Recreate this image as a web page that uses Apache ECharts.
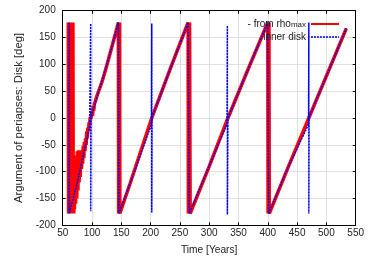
<!DOCTYPE html>
<html>
<head>
<meta charset="utf-8">
<script src="https://cdn.jsdelivr.net/npm/echarts@6/dist/echarts.min.js"></script>
<style>
html,body{margin:0;padding:0;background:#fff;}
#chart{width:374px;height:262px;}
</style>
</head>
<body>
<div id="chart"></div>
<script>
// "- from rho_max" series (time in years, argument of periapsis in degrees)
const rhoTime = [
  59.5,60,60.5,61.5,62,63,63.5,64.5,65,66,66.5,67,67.5,68,
  68.5,69,69.5,70,71,72,73,74,75,76,77,78,79,80,81,82,83,84,85,86,87,88,89,90,91,92,93,94,95,96,97,98,
  100,101,102,103,104,106,108,110,113,116,120,125,130,135,140,145,
  145.5,146,146.5,147,147.5,
  165,202,233,264,
  264.5,265,266,266.5,267.5,
  300,332,366,400,
  400.5,401,401.5,402,402.5,
  435,470,534
];
const rhoDeg = [
  178,-178,178,-178,178,-178,178,-178,178,-178,178,-178,178,-178,
  -95,-178,-90,-170,-85,-160,-70,-150,-62,-135,-60,-120,-65,-110,-60,-95,-75,-85,-52,-75,-45,-62,-38,-50,-25,-38,-18,-25,-8,-12,2,-2,
  12,4,22,14,26,32,40,46,55,64,78,97,117,137,157,178,
  -178,178,-178,178,-178,
  -122,0,90,178,
  -178,178,-178,178,-178,
  -90,0,90,178,
  -178,178,-178,178,-178,
  -91,0,167
];
// "inner disk" series
const innerTime = [
  61,61,62.5,75,85,96,97.8,97.8,98.5,110,120,130,145,
  146,165,201.5,202,202,202.5,233,264,
  266,300,330.5,331,331,332,366,400,
  401.5,435,469.5,470,470,470.5,534
];
const innerDeg = [
  178,-178,-178,-120,-70,-16,176,-174,2,44,80,117,178,
  -178,-122,-12,176,-176,1,90,178,
  -178,-90,-10,172,-180,0,90,178,
  -178,-91,-12,178,-178,1,167
];
const seriesNames = ['rhoMax', 'innerDisk'];
const legendLabels = ['{t|- from rho}{s|max}', '{t|inner disk}'];

const zip = (xs, ys) => xs.map((x, i) => [x, ys[i]]);
const txt = '#222';
const fontFamily = '"Liberation Sans", Arial, sans-serif';

const chart = echarts.init(document.getElementById('chart'));
const baseX = {
  type: 'value', min: 50, max: 550, interval: 50,
  axisLine: {show: true, onZero: false, lineStyle: {color: '#000', width: 1}},
  axisTick: {show: true, inside: true, length: 3, lineStyle: {color: '#000'}},
  splitLine: {show: true, lineStyle: {color: '#e0e0e0', width: 1}}
};
const baseY = {
  type: 'value', min: -200, max: 200, interval: 50,
  axisLine: {show: true, onZero: false, lineStyle: {color: '#000', width: 1}},
  axisTick: {show: true, inside: true, length: 3, lineStyle: {color: '#000'}},
  splitLine: {show: true, lineStyle: {color: '#e0e0e0', width: 1}}
};
chart.setOption({
  animation: false,
  backgroundColor: '#fff',
  textStyle: {fontFamily: fontFamily},
  grid: {left: 62.7, right: 18.3, top: 10.7, bottom: 36.7, containLabel: false},
  legend: {
    orient: 'vertical', align: 'right', right: 29, top: 10,
    itemWidth: 28, itemHeight: 10, itemGap: 3,
    data: [
      {name: 'rhoMax', lineStyle: {width: 2, color: '#ff0000', type: 'solid'}, itemStyle: {opacity: 0}},
      {name: 'innerDisk', lineStyle: {width: 1.5, color: '#0000ff', type: [2, 1]}, itemStyle: {opacity: 0}}
    ],
    formatter: name => legendLabels[seriesNames.indexOf(name)],
    textStyle: {
      color: txt, fontFamily: fontFamily, fontSize: 10,
      rich: {
        t: {fontSize: 10, color: txt, fontFamily: fontFamily, lineHeight: 10, verticalAlign: 'top'},
        s: {fontSize: 8, color: txt, fontFamily: fontFamily, lineHeight: 8, verticalAlign: 'bottom', padding: [6, 0, 0, 0]}
      }
    }
  },
  xAxis: [
    Object.assign({}, baseX, {
      position: 'bottom',
      name: 'Time [Years]', nameLocation: 'middle', nameGap: 20,
      nameTextStyle: {color: txt, fontSize: 10.2, fontFamily: fontFamily},
      axisLabel: {color: txt, fontSize: 10, margin: 3, fontFamily: fontFamily}
    }),
    Object.assign({}, baseX, {position: 'top', axisLabel: {show: false}, splitLine: {show: false}})
  ],
  yAxis: [
    Object.assign({}, baseY, {
      position: 'left',
      name: 'Argument of periapses: Disk [deg]', nameLocation: 'middle', nameGap: 36, nameRotate: 90,
      nameTextStyle: {color: txt, fontSize: 11.3, fontFamily: fontFamily},
      axisLabel: {color: txt, fontSize: 10, margin: 7, fontFamily: fontFamily}
    }),
    Object.assign({}, baseY, {position: 'right', axisLabel: {show: false}, splitLine: {show: false}})
  ],
  series: [
    {
      name: 'rhoMax', type: 'line', xAxisIndex: 0, yAxisIndex: 0,
      data: zip(rhoTime, rhoDeg), symbol: 'none', showSymbol: false,
      lineStyle: {color: '#ff0000', width: 3.5}, itemStyle: {color: '#ff0000'}, z: 2
    },
    {
      name: 'innerDisk', type: 'line', xAxisIndex: 0, yAxisIndex: 0,
      data: zip(innerTime, innerDeg), symbol: 'none', showSymbol: false,
      lineStyle: {color: '#0000ff', width: 1.5, type: [2, 1]}, itemStyle: {color: '#0000ff'}, z: 3
    }
  ]
});
</script>
</body>
</html>
